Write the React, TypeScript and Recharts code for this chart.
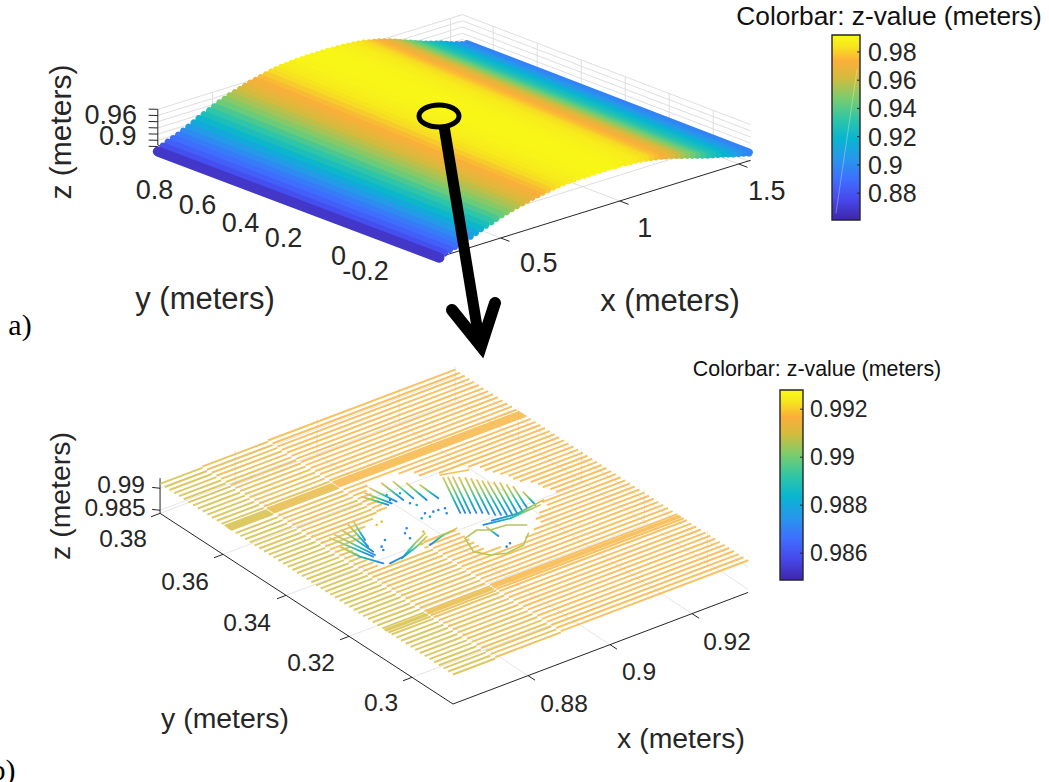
import React from 'react';
import { ComposedChart, Line, XAxis, YAxis, ReferenceDot, ReferenceArea } from 'recharts';

type Pt = { h: number; v: number | null };
type T3 = [number, number, number];

// ---------- colormap ----------
const parulaStops: [number, string][] = [
  [0, '#3E26A8'], [0.11, '#4748EB'], [0.22, '#3E6FFF'], [0.33, '#2797EB'], [0.44, '#08B5D0'],
  [0.55, '#31C6A5'], [0.66, '#7CCC6C'], [0.77, '#D4BB3D'], [0.86, '#FBAF3A'], [0.94, '#F6E61E'], [1, '#F9FB15'],
];
const hex = (c: string) => [1, 3, 5].map((i) => parseInt(c.slice(i, i + 2), 16));
const parula = (f: number) => {
  const t = Math.max(0, Math.min(1, f));
  for (let i = 1; i < parulaStops.length; i++) {
    if (t <= parulaStops[i][0]) {
      const [a, ca] = parulaStops[i - 1];
      const [b, cb] = parulaStops[i];
      const m = (t - a) / (b - a);
      const A = hex(ca), B = hex(cb);
      return `rgb(${A.map((v, k) => Math.round(v + (B[k] - v) * m)).join(',')})`;
    }
  }
  return parulaStops[parulaStops.length - 1][1];
};

// ---------- panel a data ----------
const topXStations = [
  0.27, 0.292, 0.313, 0.335, 0.357, 0.378, 0.4, 0.422, 0.443, 0.465, 0.487, 0.508, 0.53, 0.552, 0.573, 0.595,
  0.617, 0.638, 0.66, 0.682, 0.703, 0.725, 0.747, 0.768, 0.79, 0.812, 0.833, 0.855, 0.877, 0.898, 0.92, 0.942,
  0.963, 0.985, 1.007, 1.028, 1.05, 1.072, 1.093, 1.115, 1.137, 1.158, 1.18, 1.202, 1.223, 1.245, 1.267, 1.288,
  1.31, 1.332, 1.353, 1.375, 1.397, 1.418, 1.44, 1.462, 1.483, 1.505, 1.527, 1.548, 1.57,
];
const topZProfile = [
  0.868, 0.878, 0.884, 0.889, 0.894, 0.9, 0.906, 0.913, 0.92, 0.926, 0.932, 0.938, 0.944, 0.949, 0.954, 0.958,
  0.962, 0.966, 0.97, 0.973, 0.976, 0.979, 0.982, 0.984, 0.986, 0.987, 0.988, 0.989, 0.989, 0.99, 0.99, 0.99,
  0.99, 0.99, 0.989, 0.989, 0.988, 0.987, 0.986, 0.984, 0.982, 0.979, 0.976, 0.973, 0.969, 0.965, 0.96, 0.955,
  0.95, 0.945, 0.94, 0.935, 0.93, 0.926, 0.922, 0.918, 0.913, 0.908, 0.904, 0.9, 0.897,
];
const topYEnds = [-0.34, 0.94];
const topXTicks = [0.5, 1, 1.5];
const topYTicks = [0.8, 0.6, 0.4, 0.2, 0, -0.2];
const topZGrid = [0.88, 0.9, 0.92, 0.94, 0.96, 0.98, 1.0];
const topZLabels = [0.96, 0.9];
const topCbarTicks = [0.88, 0.9, 0.92, 0.94, 0.96, 0.98];

// ---------- panel b data ----------
const planeStations = [
  0.38, 0.3785, 0.377, 0.3755, 0.374, 0.3725, 0.371, 0.3695, 0.368, 0.3665, 0.365, 0.3635, 0.362, 0.3605, 0.3595,
  0.359, 0.3585, 0.358, 0.3575, 0.356, 0.3545, 0.353, 0.3515, 0.35, 0.3485, 0.347, 0.3455, 0.344, 0.3425, 0.341,
  0.3395, 0.338, 0.3365, 0.335, 0.3335, 0.332, 0.3305, 0.329, 0.3275, 0.326, 0.3245, 0.323, 0.3215, 0.32, 0.3185,
  0.317, 0.3155, 0.314, 0.3125, 0.311, 0.3095, 0.3088, 0.3083, 0.3075, 0.3065, 0.305, 0.3035, 0.302, 0.3005, 0.299,
  0.2975, 0.296, 0.2945, 0.293, 0.2915, 0.29, 0.2885, 0.287,
];
const planeSectionEdges = [0.8617, 0.872, 0.888, 0.9337];
const planeSectionZ = [0.991, 0.9913, 0.9916];
const dentGapY = [
  0.32, 0.322, 0.324, 0.326, 0.328, 0.33, 0.33, 0.332, 0.334, 0.336, 0.338, 0.34, 0.342, 0.344, 0.346, 0.348, 0.35,
  0.352, 0.354,
];
const dentGapFrom = [
  0.8987, 0.8957, 0.8957, 0.8957, 0.8957, 0.8757, 0.8957, 0.8753, 0.8753, 0.8753, 0.876, 0.8795, 0.883, 0.886, 0.8905,
  0.8909, 0.8912, 0.8914, 0.8927,
];
const dentGapTo = [
  0.9047, 0.9079, 0.9107, 0.9127, 0.9157, 0.887, 0.9202, 0.92, 0.9193, 0.9187, 0.9172, 0.9167, 0.9159, 0.9152, 0.9144,
  0.9127, 0.9067, 0.9029, 0.9003,
];
const plungeTraces: T3[][] = [
  [[0.9068, 0.3488, 0.991], [0.9048, 0.3408, 0.9875]],
  [[0.90765, 0.34835, 0.991], [0.90555, 0.3402, 0.9875]],
  [[0.9085, 0.3479, 0.991], [0.9063, 0.3396, 0.9875]],
  [[0.90935, 0.34705, 0.991], [0.90725, 0.3389, 0.9875]],
  [[0.9102, 0.3462, 0.991], [0.9082, 0.3382, 0.9875]],
  [[0.91085, 0.3452, 0.991], [0.90895, 0.33715, 0.9875]],
  [[0.9115, 0.3442, 0.991], [0.9097, 0.3361, 0.9875]],
  [[0.9121, 0.34325, 0.991], [0.9106, 0.3354, 0.9875]],
  [[0.9127, 0.3423, 0.991], [0.9115, 0.3347, 0.9875]],
  [[0.91355, 0.34145, 0.991], [0.91235, 0.33405, 0.9875]],
  [[0.9144, 0.3406, 0.991], [0.9132, 0.3334, 0.9875]],
  [[0.91495, 0.33925, 0.991], [0.91475, 0.334, 0.9875]],
  [[0.9155, 0.3379, 0.991], [0.9163, 0.3346, 0.9875]],
  [[0.9158, 0.3351, 0.991], [0.9183, 0.3345, 0.9875]],
];
const upperLeftTraces: T3[][] = [
  [[0.89031, 0.35322, 0.9905], [0.89505, 0.35094, 0.988]],
  [[0.89162, 0.35386, 0.9905], [0.89596, 0.35106, 0.988]],
  [[0.89357, 0.35482, 0.9905], [0.89712, 0.351, 0.988]],
  [[0.89656, 0.355, 0.9905], [0.89855, 0.35073, 0.988]],
  [[0.89875, 0.35415, 0.9905], [0.90048, 0.35007, 0.988]],
  [[0.90041, 0.35208, 0.9905], [0.90215, 0.348, 0.988]],
  [[0.90207, 0.35001, 0.9905], [0.90434, 0.34715, 0.988]],
];
const lowerLeftTraces: T3[][] = [
  [[0.87555, 0.34406, 0.9905], [0.881, 0.33742, 0.9875]],
  [[0.87711, 0.3445, 0.9905], [0.88166, 0.33774, 0.9875]],
  [[0.87932, 0.34526, 0.9905], [0.88219, 0.33896, 0.9875]],
  [[0.88153, 0.34603, 0.9905], [0.8826, 0.34109, 0.9875]],
  [[0.8831, 0.34647, 0.9905], [0.88367, 0.34353, 0.9875]],
  [[0.87511, 0.34032, 0.9905], [0.87686, 0.33625, 0.9895], [0.87888, 0.33147, 0.9895]],
];
const wiggleTraces: T3[][] = [
  [[0.88147, 0.33273, 0.988], [0.88511, 0.33324, 0.988], [0.89007, 0.336, 0.988], [0.89398, 0.33791, 0.988]],
  [[0.88446, 0.33292, 0.988], [0.88954, 0.33477, 0.988], [0.89345, 0.33668, 0.988]],
  [[0.89199, 0.33373, 0.988], [0.89642, 0.33526, 0.988], [0.90006, 0.33576, 0.988]],
];
const risingTraces: T3[][] = [
  [[0.90496, 0.33367, 0.988], [0.91014, 0.33194, 0.9885], [0.91585, 0.32984, 0.9905]],
  [[0.90728, 0.33404, 0.988], [0.9122, 0.3325, 0.9885], [0.91755, 0.33099, 0.9905]],
  [[0.90493, 0.33256, 0.988], [0.90519, 0.32921, 0.9875]],
];
const holeOutlines: T3[][] = [
  [[0.8969, 0.32898, 0.99], [0.89502, 0.32389, 0.99], [0.8968, 0.32092, 0.99], [0.89976, 0.31949, 0.99], [0.90432, 0.32011, 0.99], [0.90785, 0.32313, 0.99]],
  [[0.8969, 0.32898, 0.99], [0.90067, 0.33019, 0.99], [0.90272, 0.32863, 0.99], [0.90648, 0.32823, 0.99], [0.90957, 0.32589, 0.99]],
];
const ridgeTrace: T3[] = [[0.90649, 0.3494, 0.9915], [0.91205, 0.34764, 0.9915]];
const dentDotsBlue: T3[] = [
  [0.89649, 0.35228, 0.988], [0.89879, 0.34892, 0.988], [0.89872, 0.34408, 0.988], [0.90041, 0.34363, 0.988],
  [0.90157, 0.34355, 0.988], [0.903, 0.3433, 0.988], [0.90207, 0.34155, 0.988], [0.89234, 0.3416, 0.988],
  [0.8909, 0.34024, 0.988], [0.89049, 0.33812, 0.988], [0.88623, 0.34052, 0.988], [0.88414, 0.33886, 0.988],
  [0.8836, 0.33763, 0.988], [0.90473, 0.32491, 0.988], [0.90342, 0.32427, 0.988],
];
const dentDotsTeal: T3[] = [
  [0.89716, 0.35421, 0.988], [0.89962, 0.35318, 0.988], [0.89942, 0.34763, 0.988], [0.89703, 0.34293, 0.988],
  [0.8987, 0.34248, 0.988],
];
const dentDotsGold: T3[] = [[0.88851, 0.34612, 0.988], [0.89007, 0.34657, 0.988], [0.89413, 0.33862, 0.988]];
const botXTicks = [0.88, 0.9, 0.92];
const botYTicks = [0.38, 0.36, 0.34, 0.32, 0.3];
const botZTicks = [0.99, 0.985];
const botCbarTicks = [0.992, 0.99, 0.988, 0.986];

// ---------- layout ----------
const W = 1049;
const H = 782;
const SANS = "'Liberation Sans', Arial, sans-serif";
const SERIF = "'Liberation Serif', 'Times New Roman', serif";
const INK = '#262626';
const GRID = '#DEDEDE';

const top3 = { xMin: 0.27, xMax: 1.55, yMin: -0.37, yMax: 0.94, zF: 0.885, zT: 1.0 };
const bot3 = { xMin: 0.8617, xMax: 0.9337, yMin: 0.287, yMax: 0.38, zF: 0.9843, zT: 0.9923 };
const topBar = { left: 832, right: 860, top: 35, bottom: 220, lo: 0.861, hi: 0.992, labelX: 868 };
const botBar = { left: 780, right: 803, top: 390, bottom: 580, lo: 0.98488, hi: 0.9928, labelX: 810 };
const FAR_STRETCH = 1.25; // the far end of the surface looks taller: the original view has perspective

const tP = (x: number, y: number, z: number, stretch = 1): Pt => ({
  h: 446 + 238 * (x - top3.xMin) - 220 * (y - top3.yMin),
  v: 255 - 74 * (x - top3.xMin) - 84 * (y - top3.yMin) - 310 * stretch * (z - top3.zF),
});
const bP = (x: number, y: number, z: number): Pt => ({
  h: 453 + 4100 * (x - bot3.xMin) - 3150 * (y - bot3.yMin),
  v: 704 - 1550 * (x - bot3.xMin) - 2050 * (y - bot3.yMin) - 4400 * (z - bot3.zF),
});
const barV = (b: typeof topBar, z: number) => b.top + ((b.hi - z) / (b.hi - b.lo)) * (b.bottom - b.top);

// polylines -> one series with breaks
const joined = (lines: Pt[][]): Pt[] => {
  const out: Pt[] = [];
  lines.forEach((l) => {
    l.forEach((p) => out.push(p));
    out.push({ h: l[l.length - 1].h, v: null });
  });
  return out;
};

const topFrac = (z: number) => (z - topBar.lo) / (topBar.hi - topBar.lo);
const botFrac = (z: number) => (z - botBar.lo) / (botBar.hi - botBar.lo);

const topGridLines = (): Pt[] => {
  const { xMin, xMax, yMin, yMax, zF, zT } = top3;
  const L: Pt[][] = [];
  topXTicks.forEach((x) => L.push([tP(x, yMin, zF), tP(x, yMax, zF), tP(x, yMax, zT)]));
  topYTicks.forEach((y) => L.push([tP(xMin, y, zF), tP(xMax, y, zF), tP(xMax, y, zT)]));
  topZGrid.forEach((z) => L.push([tP(xMin, yMax, z), tP(xMax, yMax, z), tP(xMax, yMin, z)]));
  return joined(L);
};
const topAxisLines = (): Pt[] => {
  const { xMin, xMax, yMin, yMax, zF, zT } = top3;
  const L: Pt[][] = [
    [tP(xMin, yMin, zF), tP(xMax, yMin, zF)],
    [tP(xMin, yMax, zF), tP(xMin, yMin, zF)],
    [tP(xMin, yMax, zF), tP(xMin, yMax, zT)],
  ];
  topXTicks.forEach((x) => L.push([tP(x, yMin, zF), tP(x, yMin - 0.04, zF)]));
  topYTicks.forEach((y) => L.push([tP(xMin, y, zF), tP(xMin - 0.035, y, zF)]));
  topZGrid.forEach((z) => L.push([tP(xMin, yMax, z), tP(xMin - 0.02, yMax + 0.02, z)]));
  return joined(L);
};
const botGridLines = (): Pt[] => {
  const { xMin, xMax, yMin, yMax, zF, zT } = bot3;
  const L: Pt[][] = [];
  botXTicks.forEach((x) => L.push([bP(x, yMin, zF), bP(x, yMax, zF), bP(x, yMax, zT)]));
  botYTicks.forEach((y) => L.push([bP(xMin, y, zF), bP(xMax, y, zF), bP(xMax, y, zT)]));
  botZTicks.forEach((z) => L.push([bP(xMin, yMax, z), bP(xMax, yMax, z), bP(xMax, yMin, z)]));
  return joined(L);
};
const botAxisLines = (): Pt[] => {
  const { xMin, xMax, yMin, yMax, zF, zT } = bot3;
  const L: Pt[][] = [
    [bP(xMin, yMin, zF), bP(xMax, yMin, zF)],
    [bP(xMin, yMax, zF), bP(xMin, yMin, zF)],
    [bP(xMin, yMax, zF), bP(xMin, yMax, zT)],
  ];
  botXTicks.forEach((x) => L.push([bP(x, yMin, zF), bP(x, yMin - 0.0022, zF)]));
  botYTicks.forEach((y) => L.push([bP(xMin, y, zF), bP(xMin - 0.0022, y, zF)]));
  botZTicks.forEach((z) => L.push([bP(xMin, yMax, z), bP(xMin - 0.001, yMax + 0.0012, z)]));
  return joined(L);
};

// every scan line takes the gap of the nearest row of the dent table
const gapsAt = (y: number) => {
  let best = Infinity;
  dentGapY.forEach((g) => {
    if (Math.abs(g - y) < best) best = Math.abs(g - y);
  });
  if (best > 0.00101) return [];
  return dentGapY
    .map((gy, i) => ({ gy, from: dentGapFrom[i], to: dentGapTo[i] }))
    .filter((g) => Math.abs(Math.abs(g.gy - y) - best) < 1e-9)
    .slice(0, 2)
    .sort((p, q) => p.from - q.from);
};

const planePieces = (k: number): Pt[][] => {
  const a = planeSectionEdges[k];
  const b = planeSectionEdges[k + 1];
  const z = planeSectionZ[k];
  const L: Pt[][] = [];
  planeStations.forEach((y) => {
    let cur = a;
    gapsAt(y).forEach((g) => {
      const end = Math.min(g.from, b);
      if (end > cur) L.push([bP(cur, y, z), bP(end, y, z)]);
      cur = Math.max(cur, g.to);
    });
    if (cur < b) L.push([bP(cur, y, z), bP(b, y, z)]);
  });
  return L;
};

const dots = (list: T3[]): Pt[] => joined(list.map(([x, y, z]) => [bP(x, y, z), bP(x, y, z)]));
const tr = (t: T3[]): Pt[] => t.map(([x, y, z]) => bP(x, y, z));

const series = (key: string, data: Pt[], stroke: string, strokeWidth: number, extra: object = {}) => (
  <Line
    key={key}
    data={data}
    dataKey="v"
    stroke={stroke}
    strokeWidth={strokeWidth}
    dot={false}
    activeDot={false}
    type="linear"
    strokeLinecap="round"
    strokeLinejoin="round"
    isAnimationActive={false}
    legendType="none"
    {...extra}
  />
);

const text = (key: string, x: number, y: number, value: string, fontSize: number, extra: object = {}) => (
  <ReferenceDot
    key={key}
    x={x}
    y={y}
    r={0}
    fill="none"
    stroke="none"
    ifOverflow="visible"
    label={{ value, position: 'center', fontSize, fill: INK, fontFamily: SANS, ...extra }}
  />
);

const topYNudge = [[-34, 33], [-35, 31], [-36, 32], [-37, 30], [-26, 31], [-43, 30]];
const topXNudge = [[38, 24], [25, 26], [28, 26]];
const topZNudge = [[-47, -7], [-40, -5]];
const botYNudge = [[-37, 25], [-38, 27], [-39, 27], [-38, 26], [-31, 25]];
const botXNudge = [[36, 28], [29, 27], [35, 28]];
const botZNudge = [[-39, -4], [-45, -3]];
const TICK_TOP = 27;
const TICK_BOT = 24.5;

const barParts = (key: string, b: typeof topBar, ticks: number[], fontSize: number, digitW: number) => [
  <ReferenceArea
    key={`${key}-area`}
    x1={b.left}
    x2={b.right}
    y1={b.top}
    y2={b.bottom}
    fill={`url(#${key})`}
    fillOpacity={1}
    stroke={INK}
    strokeWidth={1.4}
    ifOverflow="visible"
  />,
  series(`${key}-ticks`, joined(ticks.map((t) => [{ h: b.right - 3, v: barV(b, t) }, { h: b.right, v: barV(b, t) }])), INK, 1, {
    strokeLinecap: 'butt',
  }),
  ...ticks.map((t) =>
    text(`${key}-${t}`, b.labelX + (String(t).length * digitW - digitW * 0.5) / 2, barV(b, t), String(t), fontSize),
  ),
];

export default function App() {
  const surfaceOrder = topXStations.map((_, i) => topXStations.length - 1 - i);
  return (
    <div style={{ position: 'absolute', left: 0, top: 0, width: W, height: H, overflow: 'hidden', background: '#fff' }}>
      <ComposedChart width={W} height={H} margin={{ top: 0, right: 0, bottom: 0, left: 0 }}>
        <defs>
          <linearGradient id="traceFade" x1="0" y1="0" x2="0" y2="1">
            <stop offset="0%" stopColor="#EBC158" />
            <stop offset="35%" stopColor="#86CB70" />
            <stop offset="65%" stopColor="#17B6B8" />
            <stop offset="100%" stopColor="#2C84E6" />
          </linearGradient>
          {['cbTop', 'cbBot'].map((id) => (
            <linearGradient key={id} id={id} x1="0" y1="0" x2="0" y2="1">
              {[...parulaStops].reverse().map(([o, c]) => (
                <stop key={o} offset={`${(1 - o) * 100}%`} stopColor={c} />
              ))}
            </linearGradient>
          ))}
        </defs>
        <XAxis type="number" dataKey="h" domain={[0, W]} hide allowDataOverflow />
        <YAxis type="number" dataKey="v" domain={[0, H]} reversed hide allowDataOverflow />

        {/* panel a */}
        {series('top-grid', topGridLines(), GRID, 1, { strokeLinecap: 'butt' })}
        {series('top-axes', topAxisLines(), INK, 1, { strokeLinecap: 'butt' })}
        {surfaceOrder.map((i) =>
          series(
            `s${i}`,
            [tP(topXStations[i], topYEnds[0], topZProfile[i]), tP(topXStations[i], topYEnds[1], topZProfile[i], FAR_STRETCH)],
            parula(topFrac(topZProfile[i])),
            i === 0 ? 10 : i === topXStations.length - 1 ? 8 : 7,
          ),
        )}
        {topXTicks.map((x, i) => {
          const p = tP(x, top3.yMin, top3.zF);
          return text(`tx${x}`, p.h + topXNudge[i][0], (p.v as number) + topXNudge[i][1], String(x), TICK_TOP);
        })}
        {topYTicks.map((y, i) => {
          const p = tP(top3.xMin, y, top3.zF);
          return text(`ty${y}`, p.h + topYNudge[i][0], (p.v as number) + topYNudge[i][1], String(y), TICK_TOP);
        })}
        {topZLabels.map((z, i) => {
          const p = tP(top3.xMin, top3.yMax, z);
          return text(`tz${z}`, p.h + topZNudge[i][0], (p.v as number) + topZNudge[i][1], String(z), TICK_TOP);
        })}
        {text('t-xl', 670, 300, 'x (meters)', 31)}
        {text('t-yl', 205, 298, 'y (meters)', 31)}
        {text('t-zl', 60, 132, 'z (meters)', 30, { angle: -90 })}
        {text('t-cb', 889, 16, 'Colorbar: z-value (meters)', 26.3, { fill: '#111' })}
        {text('a', 20, 324, 'a)', 30, { fontFamily: SERIF, fill: '#000' })}
        {barParts('cbTop', topBar, topCbarTicks, 25, 13.9)}
        {series('cb-streak', [{ h: 836, v: 213 }, { h: 857, v: 70 }], '#fff', 0.8, { strokeOpacity: 0.4 })}

        {/* panel b */}
        {series('bot-grid', botGridLines(), '#E6E6E6', 1, { strokeLinecap: 'butt' })}
        {series('bot-axes', botAxisLines(), INK, 1, { strokeLinecap: 'butt' })}
        {planeSectionZ.map((z, k) =>
          series(`p${k}`, joined(planePieces(k)), parula(botFrac(z)), 2, { strokeOpacity: 0.8, strokeLinecap: 'butt' }),
        )}
        {[...plungeTraces, ...upperLeftTraces, ...lowerLeftTraces, ...wiggleTraces, ...risingTraces].map((t, i) =>
          series(`tr${i}`, tr(t), 'url(#traceFade)', 1.8),
        )}
        {holeOutlines.map((t, i) => series(`h${i}`, tr(t), '#B7C45C', 1.6))}
        {series('ridge', tr(ridgeTrace), '#F3C24E', 1.7)}
        {series('dots-b', dots(dentDotsBlue), '#2C84E6', 2.6)}
        {series('dots-t', dots(dentDotsTeal), '#14B4B4', 2.6)}
        {series('dots-g', dots(dentDotsGold), '#D9C445', 2.6)}
        {botXTicks.map((x, i) => {
          const p = bP(x, bot3.yMin, bot3.zF);
          return text(`bx${x}`, p.h + botXNudge[i][0], (p.v as number) + botXNudge[i][1], String(x), TICK_BOT);
        })}
        {botYTicks.map((y, i) => {
          const p = bP(bot3.xMin, y, bot3.zF);
          return text(`by${y}`, p.h + botYNudge[i][0], (p.v as number) + botYNudge[i][1], String(y), TICK_BOT);
        })}
        {botZTicks.map((z, i) => {
          const p = bP(bot3.xMin, bot3.yMax, z);
          return text(`bz${z}`, p.h + botZNudge[i][0], (p.v as number) + botZNudge[i][1], String(z), TICK_BOT);
        })}
        {text('b-xl', 681, 738, 'x (meters)', 28.4)}
        {text('b-yl', 225, 718, 'y (meters)', 28.4)}
        {text('b-zl', 60, 496, 'z (meters)', 28.4, { angle: -90 })}
        {text('b-cb', 817, 368, 'Colorbar: z-value (meters)', 21.4, { fill: '#111' })}
        {text('b', 3, 769, 'b)', 30, { fontFamily: SERIF, fill: '#000' })}
        {barParts('cbBot', botBar, botCbarTicks, 23, 12.8)}
      </ComposedChart>

      <svg width={W} height={H} style={{ position: 'absolute', left: 0, top: 0, pointerEvents: 'none' }}>
        <ellipse cx={439} cy={116} rx={20} ry={11} fill="none" stroke="#000" strokeWidth={5} />
        <line x1={444} y1={126} x2={480} y2={345} stroke="#000" strokeWidth={11} />
        <path d="M452 310 L481 346 L495 303" fill="none" stroke="#000" strokeWidth={12} strokeLinecap="round" strokeLinejoin="miter" />
        <path d="M470 340 L481 355 L490 335 Z" fill="#000" />
      </svg>
    </div>
  );
}
